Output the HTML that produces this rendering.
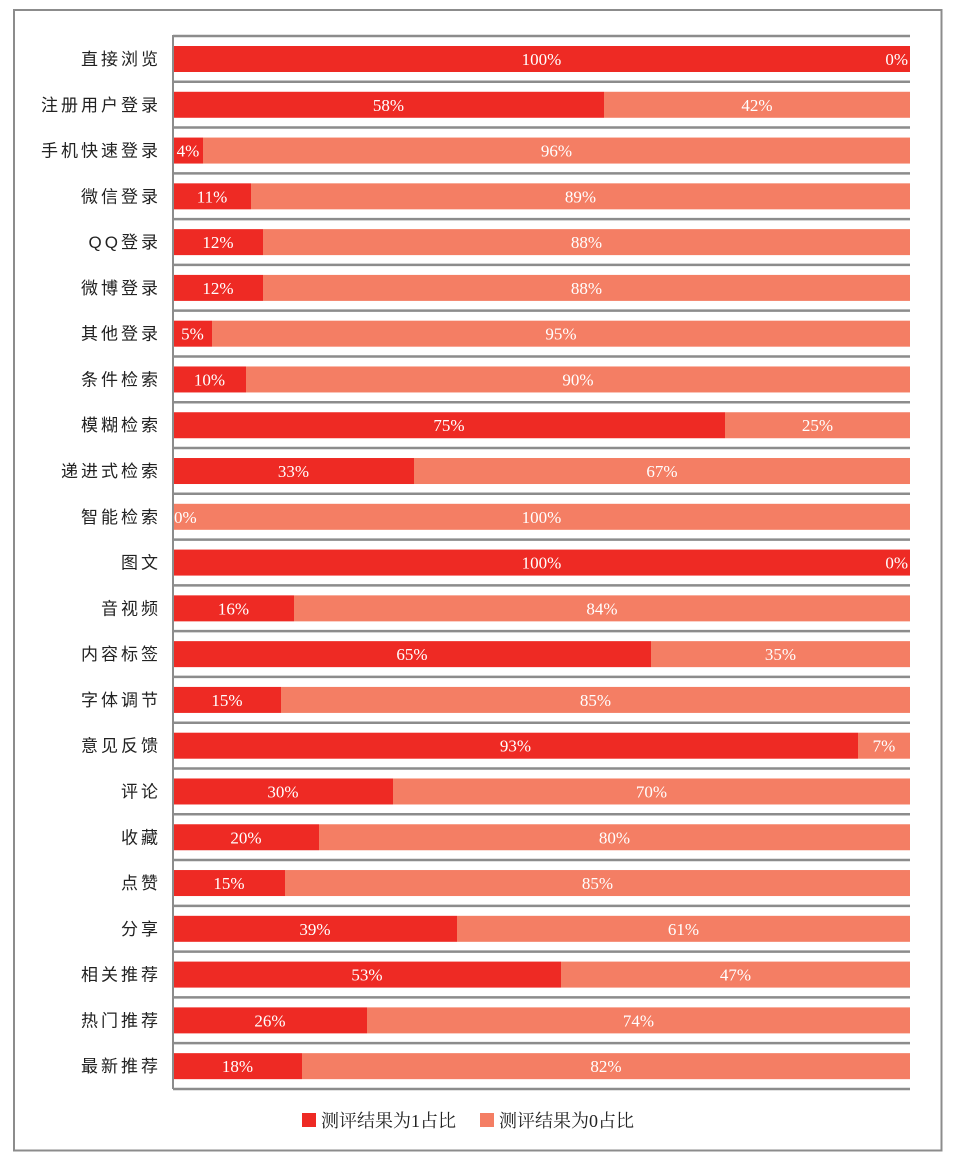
<!DOCTYPE html>
<html><head><meta charset="utf-8"><style>
html,body{margin:0;padding:0;background:#fff;}
svg{display:block;}
.l{font-family:"Liberation Sans","Noto Sans CJK SC",sans-serif;font-size:17px;fill:#222;letter-spacing:3px;}
.v{font-family:"Liberation Serif",serif;font-size:17px;fill:#fff;}
.g{font-family:"Liberation Serif","Noto Serif CJK SC",serif;font-size:18px;fill:#222;}
</style></head><body>
<svg width="957" height="1162" xmlns="http://www.w3.org/2000/svg">
<rect x="14" y="10" width="927.5" height="1140.5" fill="#fff" stroke="#8c8c8c" stroke-width="2"/>
<g id="c"></g>
<line x1="173" y1="35" x2="173" y2="1089" stroke="#8c8c8c" stroke-width="2"/>
<rect x="302" y="1113" width="14" height="14" fill="#ee2a24"/>
<text x="321" y="1127" class="g">测评结果为1占比</text>
<rect x="480" y="1113" width="14" height="14" fill="#f47e64"/>
<text x="499" y="1127" class="g">测评结果为0占比</text>
</svg>
<script>
(function(){
var names=["直接浏览","注册用户登录","手机快速登录","微信登录","QQ登录","微博登录","其他登录","条件检索","模糊检索","递进式检索","智能检索","图文","音视频","内容标签","字体调节","意见反馈","评论","收藏","点赞","分享","相关推荐","热门推荐","最新推荐"];
var p=[100,58,4,11,12,12,5,10,75,33,0,100,16,65,15,93,30,20,15,39,53,26,18];
var ends=[910,604,203,251,263,263,212,246,725,414,173,910,294,651,281,858,393,319,285,457,561,367,302];
var s="",x0=173,x1=910,step=45.78;
for(var i=0;i<=23;i++){var y=36+i*step;s+='<line x1="173" y1="'+y+'" x2="910" y2="'+y+'" stroke="#8c8c8c" stroke-width="2.5"/>';}
for(var i=0;i<23;i++){
 var ty=46+i*step,cy=ty+13,e=ends[i];
 s+='<rect x="'+x0+'" y="'+ty+'" width="'+(e-x0)+'" height="26" fill="#ee2a24"/>';
 s+='<rect x="'+e+'" y="'+ty+'" width="'+(x1-e)+'" height="26" fill="#f47e64"/>';
 s+='<text class="l" x="161" y="'+(cy+6)+'" text-anchor="end">'+names[i]+'</text>';
 var a=p[i],b=100-a;
 if(a==0){s+='<text class="v" x="174" y="'+(cy+6)+'">0%</text>';}
 else s+='<text class="v" x="'+((x0+e)/2)+'" y="'+(cy+6)+'" text-anchor="middle">'+a+'%</text>';
 if(b==0){s+='<text class="v" x="908" y="'+(cy+6)+'" text-anchor="end">0%</text>';}
 else s+='<text class="v" x="'+((e+x1)/2)+'" y="'+(cy+6)+'" text-anchor="middle">'+b+'%</text>';
}
document.getElementById("c").innerHTML=s;
})();
</script>
</body></html>
